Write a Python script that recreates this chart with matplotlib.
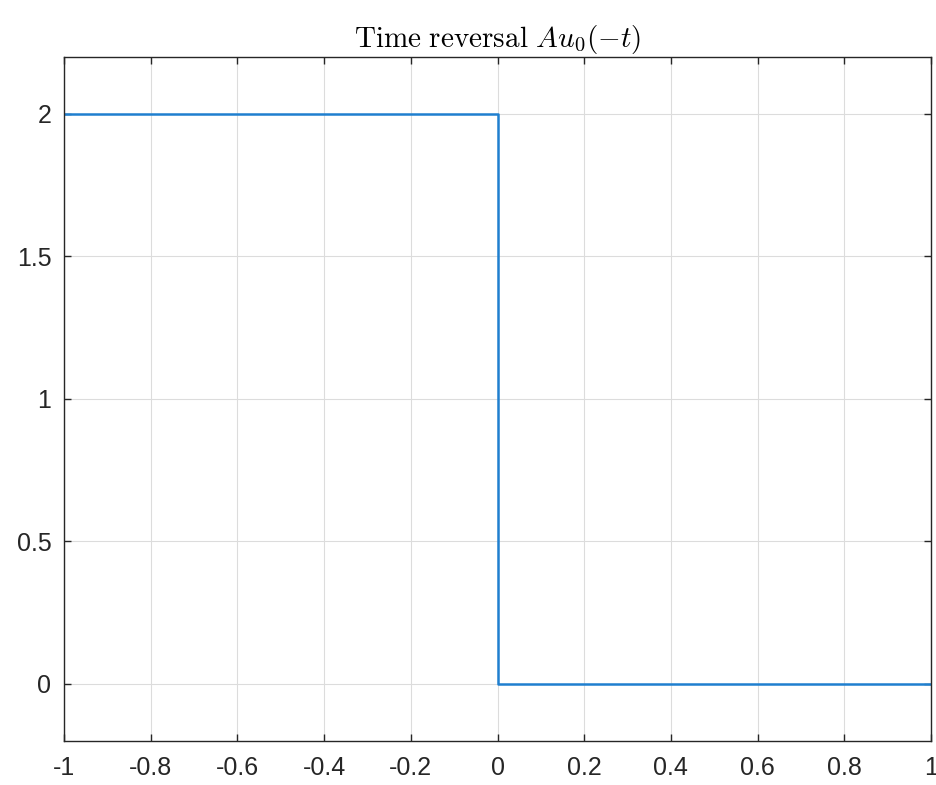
import matplotlib
matplotlib.use('Agg')
import matplotlib.pyplot as plt
import numpy as np

# step data: A*u0(-t), A = 2
t = [-1, 0, 0, 1]
y = [2, 2, 0, 0]
xticks = [-1, -0.8, -0.6, -0.4, -0.2, 0, 0.2, 0.4, 0.6, 0.8, 1]
xlabels = ['-1', '-0.8', '-0.6', '-0.4', '-0.2', '0', '0.2', '0.4', '0.6', '0.8', '1']
yticks = [0, 0.5, 1, 1.5, 2]
ylabels = ['0', '0.5', '1', '1.5', '2']

plt.rcParams['font.family'] = ['Liberation Sans', 'DejaVu Sans']
plt.rcParams['mathtext.fontset'] = 'cm'

fig = plt.figure(figsize=(9.37, 7.85), dpi=100)
ax = fig.add_axes([0.0683, 0.0561, 0.9253, 0.8713])
ax.plot(t, y, color='#1f7fcf', linewidth=1.8)
ax.set_xlim(-1, 1)
ax.set_ylim(-0.2, 2.2)
ax.set_xticks(xticks)
ax.set_xticklabels(xlabels)
ax.set_yticks(yticks)
ax.set_yticklabels(ylabels)
ax.grid(True, color='#dcdcdc', linewidth=0.8)
ax.set_axisbelow(True)
ax.tick_params(direction='in', length=5, width=1, colors='#262626', labelsize=18,
               top=True, right=True)
ax.tick_params(axis='x', pad=11)
ax.tick_params(axis='y', pad=9)
for s in ax.spines.values():
    s.set_color('#262626')
    s.set_linewidth(1)
ax.set_title(r'$\mathrm{Time\ reversal}\ Au_0(-t)$', fontsize=21, pad=7)

fig.savefig('out.png', dpi=100)
